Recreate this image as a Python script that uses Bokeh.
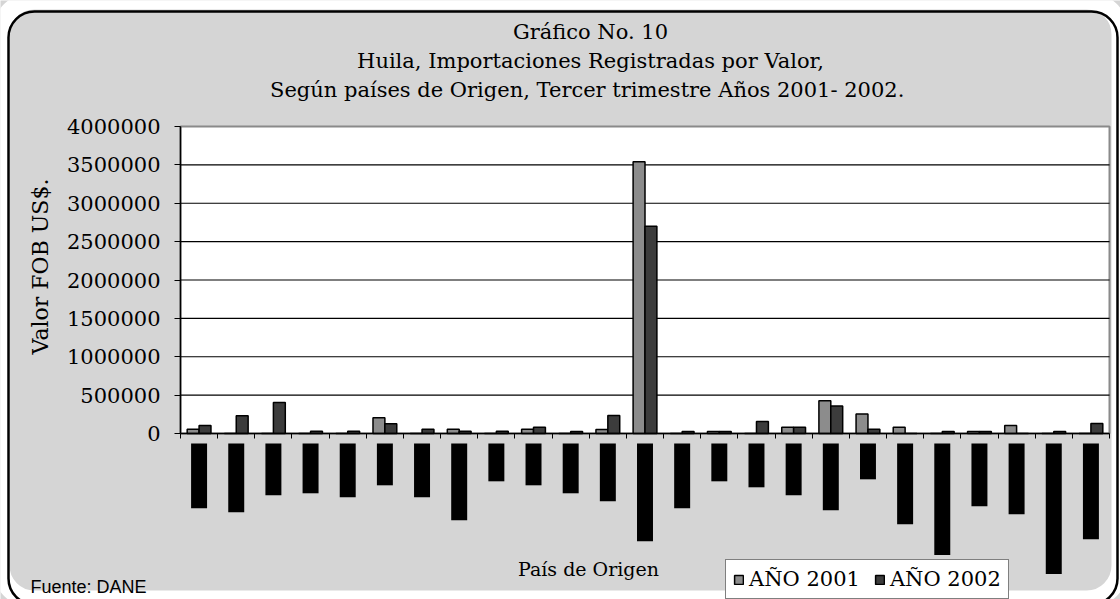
import math
from bokeh.plotting import figure
from bokeh.models import (Range1d, FixedTicker, LinearAxis, Label, Legend, LegendItem,
                          ColumnDataSource, NumeralTickFormatter, BoxAnnotation)
from bokeh.transform import dodge
from bokeh.embed import file_html
from bokeh.resources import INLINE

# ---------------- data ----------------
title_lines = ["Gráfico No. 10",
               "Huila, Importaciones Registradas por Valor,",
               "Según países de Origen,  Tercer trimestre Años 2001- 2002."]
series_names = ["AÑO 2001", "AÑO 2002"]
y_ticks = [0, 500000, 1000000, 1500000, 2000000, 2500000, 3000000, 3500000, 4000000]

# 25 countries of origin (labels unreadable in the source: rendered as black blocks)
pais_idx = list(range(25))
valor_2001 = [55000, 0, 0, 0, 0, 205000, 0, 55000, 0, 55000, 0, 52000, 3540000,
              0, 25000, 0, 80000, 428000, 255000, 80000, 0, 25000, 105000, 0, 0]
valor_2002 = [105000, 232000, 405000, 28000, 28000, 128000, 55000, 28000, 28000, 80000,
              26000, 234000, 2700000, 26000, 25000, 155000, 80000, 358000, 55000, 0,
              26000, 25000, 0, 26000, 130000]
# depth of the (garbled, blacked-out) vertical category labels, in value units
label_depth = [974000, 1026000, 805000, 779000, 831000, 675000, 831000, 1130000, 623000,
               675000, 779000, 883000, 1403000, 974000, 623000, 701000, 805000, 1000000,
               597000, 1182000, 1584000, 948000, 1052000, 1831000, 1377000]

# ---------------- layout constants (canvas pixels) ----------------
W, H = 1120, 599
PL, PR = 180, 1109          # plot-area left / right
PT, PZ = 126, 433           # y pixel of top value and of zero
YMAX = 4000000
N = len(pais_idx)
ppu = (PR - PL) / N                 # px per category unit
ppv = (PZ - PT) / YMAX              # px per value unit
x_min = -PL / ppu
x_max = x_min + W / ppu
y_max = YMAX + PT / ppv
y_min = -(H - PZ) / ppv


def px2x(px):
    return x_min + px / ppu


def py2y(py):
    return y_max - py / ppv


label_gap = 10 / ppv
BG = "#d5d5d5"
SERIF = "DejaVu Serif"

src = ColumnDataSource(dict(
    x=[i + 0.5 for i in pais_idx],
    v1=valor_2001, v2=valor_2002,
    ltop=[-label_gap] * N,
    lbot=[-d for d in label_depth],
))

p = figure(width=W, height=H, output_backend="svg", toolbar_location=None,
           x_range=Range1d(x_min, x_max), y_range=Range1d(y_min, y_max),
           x_axis_location=None, y_axis_location=None, min_border=0)
p.min_border_left = p.min_border_right = p.min_border_top = p.min_border_bottom = 0
p.background_fill_color = BG
p.border_fill_color = BG
p.outline_line_color = None
for g in p.grid:
    g.visible = False

# white corners outside the rounded outer frame
p.add_layout(BoxAnnotation(left=px2x(0), right=px2x(W), top=py2y(0), bottom=py2y(H),
                           fill_color=None, line_color="white", line_width=18,
                           line_alpha=1, border_radius=34, level="underlay"))

# white plot area
area = p.quad(left=0, right=N, bottom=0, top=YMAX,
              fill_color="white", line_color="#8a8a8a", line_width=2)
area.level = "image"

# horizontal grid lines across the plot area only
grid_vals = y_ticks[1:-1]
p.segment(x0=[0] * len(grid_vals), x1=[N] * len(grid_vals), y0=grid_vals, y1=grid_vals,
          line_color="black", line_width=1.2, level="underlay")

# y axis at the left edge of the plot area
ya = LinearAxis(fixed_location=0, ticker=FixedTicker(ticks=y_ticks), bounds=(0, YMAX),
                formatter=NumeralTickFormatter(format="0"),
                minor_tick_line_color=None, major_tick_in=0, major_tick_out=6,
                major_label_standoff=14, major_label_text_font=SERIF,
                major_label_text_font_size="21px", major_label_text_color="black",
                axis_line_color="black", axis_line_width=1.5,
                major_tick_line_color="black")
p.add_layout(ya, "left")

# x axis at value 0, ticks at category boundaries (labels are the blocks below)
xa = LinearAxis(fixed_location=0, ticker=FixedTicker(ticks=list(range(N + 1))),
                bounds=(0, N), major_label_text_color=None, major_label_standoff=0,
                major_tick_in=0, major_tick_out=5, minor_tick_line_color=None,
                axis_line_color="black", axis_line_width=1.5,
                major_tick_line_color="black")
p.add_layout(xa, "below")

# bars
r1 = p.vbar(x=dodge("x", -0.16, range=p.x_range), width=0.32, top="v1", bottom=0,
            source=src, fill_color="#8c8c8c", line_color="black", line_width=1.5)
r2 = p.vbar(x=dodge("x", 0.16, range=p.x_range), width=0.32, top="v2", bottom=0,
            source=src, fill_color="#3c3c3c", line_color="black", line_width=1.5)

# blacked-out category labels
p.vbar(x="x", width=0.43, top="ltop", bottom="lbot", source=src,
       fill_color="black", line_color=None)


def lab(text, cx, cy, size, font=SERIF, align="center", angle=0.0):
    p.add_layout(Label(x=px2x(cx), y=py2y(cy), text=text, text_align=align,
                       text_baseline="middle", text_font=font, text_font_size=size,
                       text_color="black", angle=angle))


for t, cy in zip(title_lines, [31, 60, 89]):
    lab(t, 590, cy, "21px")
lab("Valor FOB US$.", 40, 266, "22px", angle=math.pi / 2)
lab("País de Origen", 588, 568, "19px")
lab("Fuente:  DANE", 30, 586, "18px", font="Liberation Sans", align="left")

# rounded outer frame of the chart
p.add_layout(BoxAnnotation(left=px2x(8), right=px2x(1117), top=py2y(11), bottom=py2y(604),
                           fill_color=None, line_color="black", line_width=2.5,
                           line_alpha=1, border_radius=26, level="overlay"))

legend = Legend(items=[LegendItem(label=series_names[0], renderers=[r1]),
                       LegendItem(label=series_names[1], renderers=[r2])],
                orientation="horizontal", location=(725, 0),
                label_text_font=SERIF, label_text_font_size="21px",
                label_text_color="black", glyph_width=11, glyph_height=11,
                label_standoff=5, spacing=14, padding=7, margin=0,
                border_line_color="black", border_line_width=1,
                background_fill_color="white", background_fill_alpha=1)
p.add_layout(legend)

open("out.html", "w").write(file_html(p, INLINE))
